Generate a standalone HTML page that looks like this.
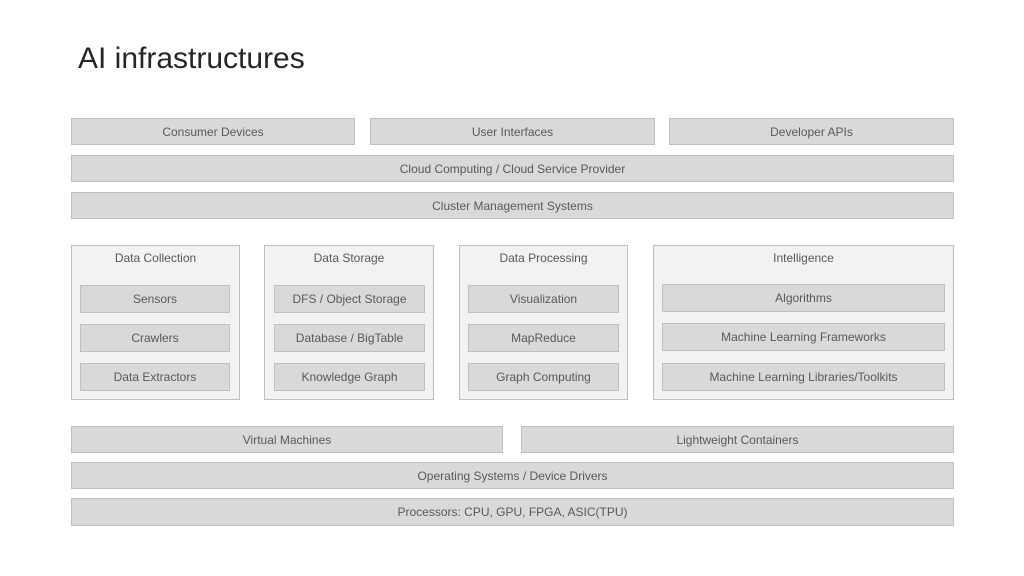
<!DOCTYPE html>
<html><head><meta charset="utf-8"><style>
html,body{margin:0;padding:0;background:#fff;}
body{width:1024px;height:576px;position:relative;overflow:hidden;font-family:"Liberation Sans",sans-serif;}
.b{position:absolute;box-sizing:border-box;background:#d9d9d9;border:1px solid #bfbfbf;color:#595959;font-size:12px;display:flex;align-items:center;justify-content:center;white-space:nowrap;}
.p{position:absolute;box-sizing:border-box;background:#f2f2f2;border:1px solid #bfbfbf;}
.t{position:absolute;color:#595959;font-size:12px;text-align:center;white-space:nowrap;}
h1{position:absolute;left:78px;top:42px;margin:0;font-weight:normal;font-size:30px;color:#262626;}
</style></head><body>
<h1>AI infrastructures</h1>
<div class="b" style="left:71px;top:118px;width:284px;height:27px">Consumer Devices</div>
<div class="b" style="left:370px;top:118px;width:285px;height:27px">User Interfaces</div>
<div class="b" style="left:669px;top:118px;width:285px;height:27px">Developer APIs</div>
<div class="b" style="left:71px;top:155px;width:883px;height:27px">Cloud Computing / Cloud Service Provider</div>
<div class="b" style="left:71px;top:192px;width:883px;height:27px">Cluster Management Systems</div>

<div class="p" style="left:71px;top:245px;width:169px;height:155px"></div>
<div class="t" style="left:71px;top:251px;width:169px">Data Collection</div>
<div class="b" style="left:80px;top:285px;width:150px;height:28px">Sensors</div>
<div class="b" style="left:80px;top:324px;width:150px;height:28px">Crawlers</div>
<div class="b" style="left:80px;top:363px;width:150px;height:28px">Data Extractors</div>

<div class="p" style="left:264px;top:245px;width:170px;height:155px"></div>
<div class="t" style="left:264px;top:251px;width:170px">Data Storage</div>
<div class="b" style="left:274px;top:285px;width:151px;height:28px">DFS / Object Storage</div>
<div class="b" style="left:274px;top:324px;width:151px;height:28px">Database / BigTable</div>
<div class="b" style="left:274px;top:363px;width:151px;height:28px">Knowledge Graph</div>

<div class="p" style="left:459px;top:245px;width:169px;height:155px"></div>
<div class="t" style="left:459px;top:251px;width:169px">Data Processing</div>
<div class="b" style="left:468px;top:285px;width:151px;height:28px">Visualization</div>
<div class="b" style="left:468px;top:324px;width:151px;height:28px">MapReduce</div>
<div class="b" style="left:468px;top:363px;width:151px;height:28px">Graph Computing</div>

<div class="p" style="left:653px;top:245px;width:301px;height:155px"></div>
<div class="t" style="left:653px;top:251px;width:301px">Intelligence</div>
<div class="b" style="left:662px;top:284px;width:283px;height:28px">Algorithms</div>
<div class="b" style="left:662px;top:323px;width:283px;height:28px">Machine Learning Frameworks</div>
<div class="b" style="left:662px;top:363px;width:283px;height:28px">Machine Learning Libraries/Toolkits</div>

<div class="b" style="left:71px;top:426px;width:432px;height:27px">Virtual Machines</div>
<div class="b" style="left:521px;top:426px;width:433px;height:27px">Lightweight Containers</div>
<div class="b" style="left:71px;top:462px;width:883px;height:27px">Operating Systems / Device Drivers</div>
<div class="b" style="left:71px;top:498px;width:883px;height:28px">Processors: CPU, GPU, FPGA, ASIC(TPU)</div>
</body></html>
